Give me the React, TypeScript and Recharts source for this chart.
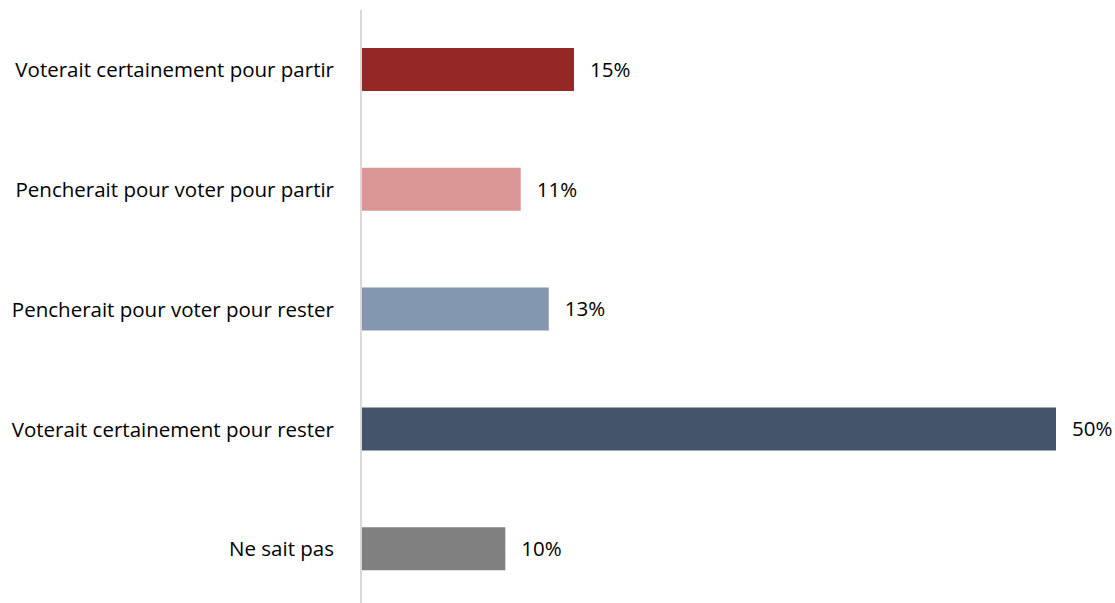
import { BarChart, Bar, XAxis, YAxis, Cell, LabelList } from 'recharts';

// Categories and shares (%)
const categories = [
  'Voterait certainement pour partir',
  'Pencherait pour voter pour partir',
  'Pencherait pour voter pour rester',
  'Voterait certainement pour rester',
  'Ne sait pas',
];
const shares = [15.2, 11.4, 13.4, 49.6, 10.3];
const colors = ['#952826', '#DA9694', '#8497B0', '#44546A', '#808080'];

const data = categories.map((name, i) => ({ name, value: shares[i] }));

const font = '"Open Sans", sans-serif';

export default function App() {
  return (
    <div style={{ position: 'absolute', left: 0, top: 0, width: 1115, height: 603, overflow: 'hidden', background: '#fff' }}>
      <BarChart
        width={1115}
        height={610}
        data={data}
        layout="vertical"
        margin={{ top: 10, right: 59, bottom: 1, left: 0 }}
        barSize={43}
      >
        <XAxis type="number" domain={[0, 49.6]} hide />
        <YAxis
          type="category"
          dataKey="name"
          width={361}
          axisLine={{ stroke: '#d9d9d9', strokeWidth: 2 }}
          tickLine={false}
          tickSize={0}
          tickMargin={27}
          tick={{ fill: '#000', fontSize: 20.5, fontFamily: font }}
        />
        <Bar dataKey="value" isAnimationActive={false}>
          {data.map((d, i) => (
            <Cell key={d.name} fill={colors[i]} />
          ))}
          <LabelList
            dataKey="value"
            position="right"
            offset={16}
            formatter={(v: number) => `${Math.round(v)}%`}
            style={{ fill: '#000', fontSize: 20.5, fontFamily: font }}
          />
        </Bar>
      </BarChart>
    </div>
  );
}
